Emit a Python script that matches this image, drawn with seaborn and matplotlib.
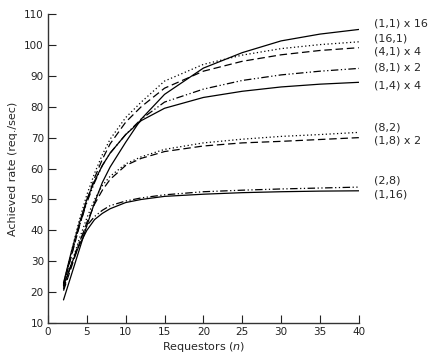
import pandas as pd
import numpy as np
import matplotlib
matplotlib.use('Agg')
import matplotlib.pyplot as plt
import seaborn as sns

sns.set_style('ticks')
plt.rcParams['font.family'] = ['DejaVu Sans']
plt.rcParams['mathtext.fontset'] = 'dejavusans'

# requestor counts (x)
n = [2, 3, 4, 5, 6, 7, 8, 10, 12, 15, 20, 25, 30, 35, 40]

# achieved rate for each configuration
r_1_1x16 = [17.5, 25.5, 33.5, 41.5, 49, 55.5, 60.5, 68.5, 76, 84, 92.5, 97.5, 101.3, 103.5, 105]
r_16_1 = [22.5, 33, 43, 51.5, 58.5, 64.5, 69.5, 76.5, 81.5, 88.3, 93.7, 96.7, 98.8, 100.1, 101]
r_4_1x4 = [22, 31.5, 41, 49.5, 57, 63, 68, 75, 80, 86, 91.5, 94.7, 96.8, 98.2, 99.1]
r_8_1x2 = [22.5, 32, 41, 49, 55.5, 61, 65, 71, 76, 81.5, 85.7, 88.5, 90.3, 91.5, 92.4]
r_1_4x4 = [23, 33, 42, 50, 56, 61, 65, 71, 75.5, 79.5, 83, 85, 86.4, 87.3, 87.9]
r_8_2 = [21.5, 29, 37, 44, 50, 54.5, 57.5, 61.5, 63.8, 66.2, 68.3, 69.5, 70.4, 71, 71.7]
r_1_8x2 = [20.5, 28, 35.5, 42.5, 48.5, 53, 56.5, 61, 63.3, 65.5, 67.3, 68.3, 68.8, 69.4, 70]
r_2_8 = [21, 29, 36, 41.5, 44.5, 46.5, 48, 49.5, 50.5, 51.5, 52.5, 53, 53.4, 53.7, 54]
r_1_16 = [22, 29, 35, 40, 43.5, 45.5, 47, 49, 50, 51, 51.7, 52.2, 52.5, 52.7, 52.8]

names = ['(1,1) x 16', '(16,1)', '(4,1) x 4', '(8,1) x 2', '(1,4) x 4',
         '(8,2)', '(1,8) x 2', '(2,8)', '(1,16)']
series = [r_1_1x16, r_16_1, r_4_1x4, r_8_1x2, r_1_4x4, r_8_2, r_1_8x2, r_2_8, r_1_16]
label_y = [106.8, 102.2, 98.0, 92.8, 87.0, 73.4, 69.2, 56.0, 51.7]

# line styles
solid = (None, None)
dotted = (1, 2)
dashed = (6, 3)
dashdotdot = (6, 2, 1, 2, 1, 2)
styles = [solid, dotted, dashed, dashdotdot, solid, dotted, dashed, dashdotdot, solid]

df = pd.DataFrame({'n': n * len(names),
                   'rate': sum(series, []),
                   'config': np.repeat(names, len(n))})

fig = plt.figure(figsize=(4.36, 3.59), dpi=100)
ax = fig.add_axes([0.110, 0.100, 0.713, 0.861])

for name, st in zip(names, styles):
    sub = df[df['config'] == name]
    line = sns.lineplot(data=sub, x='n', y='rate', ax=ax, color='black', lw=0.9)
    if st != solid:
        ax.lines[-1].set_dashes(st)

for name, ly in zip(names, label_y):
    ax.text(42, ly, name, fontsize=8, va='center', ha='left', clip_on=False)

ax.set_xlim(0, 40)
ax.set_ylim(10, 110)
ax.set_xticks(range(0, 41, 5))
ax.set_yticks(range(10, 111, 10))
ax.tick_params(direction='in', length=6, width=0.8, labelsize=7.5, pad=3, colors='#222222')
ax.set_xlabel(r'Requestors ($\mathit{n}$)', fontsize=8, labelpad=2)
ax.set_ylabel('Achieved rate (req./sec)', fontsize=8, labelpad=4)
sns.despine(ax=ax)
for s in ['left', 'bottom']:
    ax.spines[s].set_linewidth(1.0)
    ax.spines[s].set_color('#333333')

fig.savefig('out.png', dpi=100)
